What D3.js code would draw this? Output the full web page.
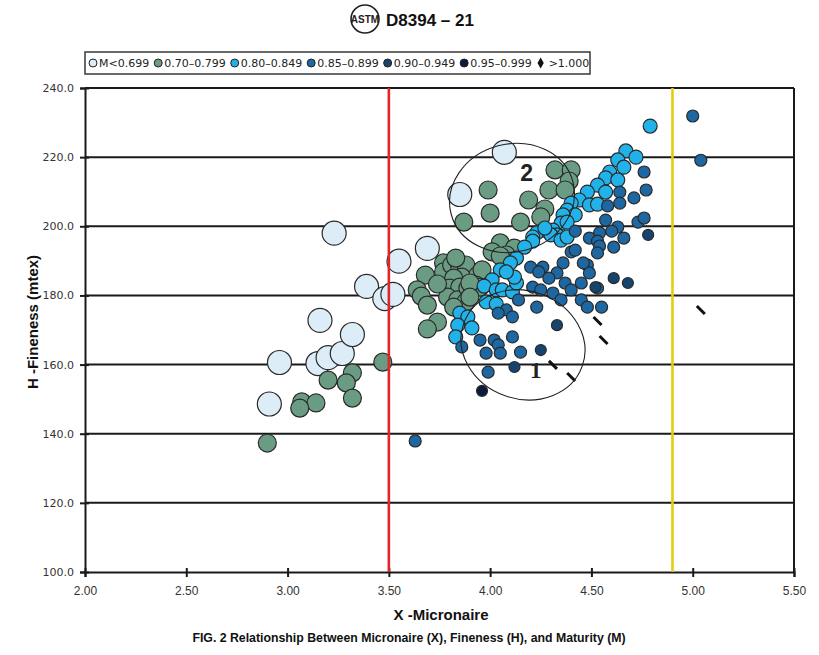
<!DOCTYPE html>
<html><head><meta charset="utf-8">
<script src="https://cdn.jsdelivr.net/npm/d3@7"></script>
<style>body{margin:0;background:#fff}svg{display:block}</style>
</head><body>
<svg id="c" width="819" height="655"></svg>
<script>
// ---- data (Micronaire X, Fineness H) by maturity class ----
const xTicks = [2.00,2.50,3.00,3.50,4.00,4.50,5.00,5.50];
const yTicks = [100,120,140,160,180,200,220,240];
const refLines = [3.5, 4.9];
const legendLabels = ["M<0.699","0.70\u20130.799","0.80\u20130.849","0.85\u20130.899","0.90\u20130.949","0.95\u20130.999",">1.000"];

const mLow = [[2.91,148.6],[2.96,160.6],[3.16,172.8],[3.15,160.3],[3.20,162.0],[3.27,163.2],[3.32,168.7],[3.23,198.0],[3.39,182.6],[3.48,179.1],[3.52,180.3],[3.55,189.9],[3.69,193.6],[3.85,209.2],[4.07,221.4]];
const m070 = [[2.90,137.3],[3.47,160.7],[3.32,157.6],[3.20,155.5],[3.29,154.7],[3.32,150.3],[3.07,149.2],[3.14,148.9],[3.06,147.4],
 [3.68,185.9],[3.64,181.6],[3.66,179.8],[3.69,177.2],[3.74,172.3],[3.69,170.3],[3.77,189.4],[3.77,186.8],[3.81,188.8],[3.85,188.2],[3.88,188.8],[3.86,185.3],[3.82,185.0],[3.80,182.1],[3.85,182.4],[3.79,179.5],[3.84,178.7],[3.88,178.1],[3.82,176.6],[3.89,182.1],[3.94,185.9],[3.96,187.4],[3.93,183.0],[3.95,182.4],[3.90,183.6],[3.74,183.3],[3.90,179.5],[3.83,190.8],
 [4.05,195.2],[4.01,192.6],[4.12,193.7],[4.08,191.7],[4.05,191.4],[3.99,210.5],[4.00,203.8],[3.87,201.2],[4.15,201.2],[4.19,207.6],[4.27,205.0],[4.25,202.7],[4.29,210.5],[4.32,216.3],[4.40,216.3],[4.39,213.1],[4.37,210.5]];
const m080 = [[4.79,229.0],[4.67,221.8],[4.72,220.0],[4.63,219.2],[4.66,217.1],[4.59,215.7],[4.57,214.0],[4.63,213.4],[4.53,211.9],[4.57,209.9],[4.48,209.9],[4.44,207.6],[4.49,206.2],[4.53,206.4],[4.40,206.7],[4.38,204.7],[4.42,203.3],[4.36,203.3],[4.35,200.9],[4.38,201.2],[4.31,198.9],[4.26,198.9],[4.33,197.5],[4.30,197.5],[4.23,198.1],[4.21,196.9],[4.21,195.7],[4.35,196.0],[4.38,196.9],[4.13,190.8],[4.10,189.4],[4.05,187.4],[4.01,184.5],[3.97,182.7],[4.03,181.6],[4.06,181.6],[4.11,181.0],[4.13,183.6],[4.12,185.3],[4.08,186.8],[3.98,178.1],[4.03,177.5],[3.85,174.9],[3.89,173.8],[3.84,171.4],[3.91,170.6],[3.83,168.0],[4.27,199.5],[4.17,194.0]];
const m085 = [[5.00,231.9],[5.04,219.1],[4.76,215.7],[4.77,210.5],[4.71,208.2],[4.64,209.9],[4.64,206.7],[4.58,205.9],[4.57,201.8],[4.63,199.8],[4.73,201.2],[4.76,202.4],[4.60,198.6],[4.54,198.1],[4.49,196.6],[4.53,195.7],[4.54,194.3],[4.61,194.0],[4.66,196.6],[4.42,198.6],[4.40,192.6],[4.42,193.1],[4.53,192.3],[4.36,189.4],[4.48,188.8],[4.49,186.5],[4.33,186.5],[4.37,183.6],[4.45,183.6],[4.26,188.2],[4.20,188.2],[4.24,186.8],[4.21,182.4],[4.25,181.6],[4.31,180.7],[4.35,178.7],[4.40,181.6],[4.53,182.1],[4.45,178.7],[4.48,176.6],[4.55,176.6],[4.46,189.4],[4.08,175.8],[4.04,174.9],[4.14,178.7],[4.11,173.8],[4.23,176.6],[3.95,167.1],[4.02,167.1],[4.04,165.7],[3.98,163.3],[4.05,163.3],[4.11,168.0],[4.15,163.6],[3.99,157.8],[3.86,165.1],[3.63,137.9],[4.29,185.0]];
const m090 = [[4.78,197.5],[4.61,185.0],[4.68,183.6],[4.52,182.4],[4.33,171.4],[4.25,164.2],[4.12,159.3]];
const m095 = [[3.96,152.4]];
const mHigh = [[4.53,172.6],[4.56,167.1],[4.31,159.9],[4.40,156.4],[5.04,175.8]];

// annotation ellipses: center X, center H, radius in X, radius in H, rotation, label
const ellipses = [
  {cx:4.108, cy:208.2, rx:0.311, ry:15.6, rot:-15, label:"2", lx:4.18, ly:213.1, font:"Liberation Sans"},
  {cx:4.162, cy:165.7, rx:0.311, ry:15.6, rot:20, label:"1", lx:4.225, ly:156.1, font:"Liberation Serif"}
];

// ---- drawing ----
const svg = d3.select("#c");
const L=85, R=794, T=88, B=572;
const x = d3.scaleLinear().domain([2,5.5]).range([L,R]);
const y = d3.scaleLinear().domain([100,240]).range([B,T]);

const series = [
  {data:mLow, fill:"#dcedf8", r:12},
  {data:m070, fill:"#6a9c84", r:9},
  {data:m080, fill:"#22b2ea", r:7},
  {data:m085, fill:"#1d68a3", r:6},
  {data:m090, fill:"#15456f", r:5.5},
  {data:m095, fill:"#0c1b3c", r:5.5}
];

// header
const hd = svg.append("g");
hd.append("circle").attr("cx",365).attr("cy",19).attr("r",14).attr("fill","none").attr("stroke","#222").attr("stroke-width",1.6);
hd.append("text").attr("x",365).attr("y",23).attr("text-anchor","middle")
  .style("font","bold 10px 'Liberation Sans Narrow','Liberation Sans',sans-serif").attr("fill","#222").text("ASTM");
hd.append("text").attr("x",386).attr("y",26).style("font","bold 17px 'Liberation Sans',Arial,sans-serif").attr("fill","#111").text("D8394 \u2013 21");

// gridlines
svg.append("g").selectAll("line").data(yTicks.filter(d=>d>100)).join("line")
  .attr("x1",L).attr("x2",R).attr("y1",d=>y(d)).attr("y2",d=>y(d))
  .attr("stroke","#1a1a1a").attr("stroke-width",2);

// frame
svg.append("line").attr("x1",R).attr("x2",R).attr("y1",T).attr("y2",B).attr("stroke","#1a1a1a").attr("stroke-width",2);

// axes
const ya = svg.append("g").attr("transform",`translate(${L},0)`)
  .call(d3.axisLeft(y).tickValues(yTicks).tickFormat(d3.format(".1f")).tickSize(5).tickPadding(6));
const xa = svg.append("g").attr("transform",`translate(0,${B})`)
  .call(d3.axisBottom(x).tickValues(xTicks).tickFormat(d3.format(".2f")).tickSize(5).tickPadding(9));
ya.select(".domain").attr("stroke","#1a1a1a").attr("stroke-width",2);
xa.select(".domain").attr("stroke","#1a1a1a").attr("stroke-width",2);
ya.selectAll(".tick line").attr("x1",4).attr("stroke","#1a1a1a").attr("stroke-width",2);
xa.selectAll(".tick line").attr("y1",-4).attr("stroke","#1a1a1a").attr("stroke-width",2);
ya.selectAll("text").style("font","11px 'DejaVu Sans',Verdana,sans-serif").attr("fill","#333");
xa.selectAll("text").style("font","12px 'Liberation Sans',Arial,sans-serif").attr("fill","#333");

// points
const pts = svg.append("g");
series.forEach(s=>{
  pts.append("g").selectAll("circle").data(s.data).join("circle")
    .attr("cx",d=>x(d[0])).attr("cy",d=>y(d[1])).attr("r",s.r)
    .attr("fill",s.fill).attr("stroke","#2a2a2a").attr("stroke-width",1.2);
});
pts.append("g").selectAll("line").data(mHigh).join("line")
  .attr("x1",d=>x(d[0])-4).attr("y1",d=>y(d[1])-4).attr("x2",d=>x(d[0])+4).attr("y2",d=>y(d[1])+4)
  .attr("stroke","#111").attr("stroke-width",3);

// ellipses
const eg = svg.append("g");
ellipses.forEach(e=>{
  const cx=x(e.cx), cy=y(e.cy);
  eg.append("ellipse").attr("cx",cx).attr("cy",cy)
    .attr("rx",x(e.cx+e.rx)-cx).attr("ry",cy-y(e.cy+e.ry))
    .attr("transform",`rotate(${e.rot},${cx},${cy})`)
    .attr("fill","none").attr("stroke","#222").attr("stroke-width",1.1);
  eg.append("text").attr("x",x(e.lx)).attr("y",y(e.ly)).attr("text-anchor","middle")
    .style("font",`bold 23px '${e.font}',sans-serif`).attr("fill","#222").text(e.label);
});

// reference lines
const refCol = ["#e0262b","#e3cd12"];
svg.append("g").selectAll("line").data(refLines).join("line")
  .attr("x1",d=>x(d)).attr("x2",d=>x(d)).attr("y1",T).attr("y2",B)
  .attr("stroke",(d,i)=>refCol[i]).attr("stroke-width",2.6);

// axis titles
svg.append("text").attr("x",441).attr("y",620).attr("text-anchor","middle")
  .style("font","bold 15px 'Liberation Sans',Arial,sans-serif").attr("fill","#111").text("X -Micronaire");
svg.append("text").attr("transform","translate(38,322) rotate(-90)").attr("text-anchor","middle")
  .style("font","bold 15px 'Liberation Sans',Arial,sans-serif").attr("fill","#111").text("H -Fineness (mtex)");
svg.append("text").attr("x",409).attr("y",642).attr("text-anchor","middle")
  .style("font","bold 12.3px 'Liberation Sans',Arial,sans-serif").attr("fill","#111")
  .text("FIG. 2 Relationship Between Micronaire (X), Fineness (H), and Maturity (M)");

// legend
const lg = svg.append("g");
lg.append("rect").attr("x",85).attr("y",52).attr("width",505).attr("height",22)
  .attr("fill","#fff").attr("stroke","#444").attr("stroke-width",1.6);
const legFills = series.map(s=>s.fill);
let cx = 93;
legendLabels.forEach((lab,i)=>{
  if(i<6){
    lg.append("circle").attr("cx",cx).attr("cy",63).attr("r",4).attr("fill",legFills[i]).attr("stroke","#222").attr("stroke-width",1);
  } else {
    lg.append("path").attr("d",d3.symbol(d3.symbolDiamond,34)()).attr("transform",`translate(${cx},63)`).attr("fill","#111");
  }
  const t = lg.append("text").attr("x",cx+(i===6?8:6)).attr("y",67)
    .style("font","11px 'DejaVu Sans',Verdana,sans-serif").attr("fill","#222").text(lab);
  cx = cx + 6 + t.node().getComputedTextLength() + 9;
});
</script>
</body></html>
